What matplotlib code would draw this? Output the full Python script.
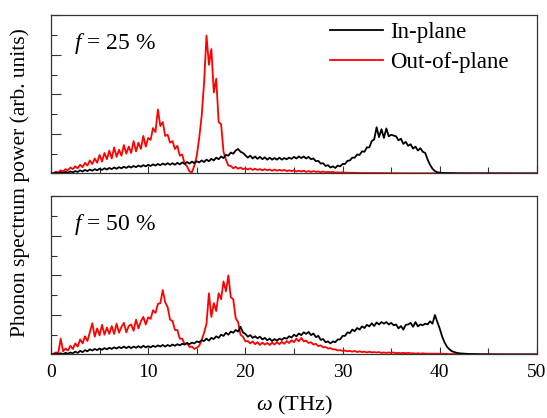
import numpy as np
import matplotlib
matplotlib.use("Agg")
import matplotlib.pyplot as plt
from matplotlib.ticker import MultipleLocator

plt.rcParams['font.family'] = ['Liberation Serif', 'DejaVu Serif']
plt.rcParams['mathtext.fontset'] = 'custom'
plt.rcParams['mathtext.it'] = 'Liberation Serif:italic'
plt.rcParams['mathtext.rm'] = 'Liberation Serif'

# frequency grid (THz), 0.25 THz steps
freq = np.linspace(0, 50, 201)

# f = 25 %, out-of-plane (red)
r25 = [0.0,
       0.01, 0.04, 0.03, 0.08, 0.05, 0.11, 0.08, 0.15,
       0.11, 0.18, 0.13, 0.22, 0.16, 0.27, 0.20, 0.33,
       0.24, 0.38, 0.27, 0.47, 0.30, 0.52, 0.36, 0.58,
       0.38, 0.66, 0.42, 0.60, 0.45, 0.72, 0.50, 0.68,
       0.52, 0.82, 0.56, 0.78, 0.62, 0.95, 0.68, 0.90,
       0.85, 1.15, 1.05, 1.62, 1.20, 1.30, 0.95, 0.98,
       0.78, 0.82, 0.62, 0.70, 0.45, 0.48, 0.25, 0.18,
       0.05, 0.03, 0.20, 0.45, 0.90, 1.45, 2.30, 3.49,
       2.75, 3.15, 2.05, 2.40, 1.30, 1.25, 0.55, 0.35,
       0.20, 0.19, 0.13, 0.17, 0.12, 0.15, 0.11, 0.13,
       0.10, 0.13, 0.09, 0.12, 0.09, 0.11, 0.08, 0.11,
       0.08, 0.10, 0.07, 0.10, 0.07, 0.09, 0.07, 0.09,
       0.06, 0.08, 0.06, 0.08, 0.05, 0.07, 0.05, 0.07,
       0.04, 0.06, 0.04, 0.06, 0.04, 0.05, 0.03, 0.05,
       0.03, 0.04, 0.03, 0.04, 0.02, 0.03, 0.02, 0.03,
       0.02, 0.02, 0.015, 0.02, 0.015, 0.015, 0.012, 0.012,
       0.01, 0.01, 0.01, 0.01, 0.01, 0.01, 0.01, 0.01,
       0.01, 0.008, 0.008, 0.008, 0.007, 0.007, 0.006, 0.006,
       0.005, 0.005, 0.005, 0.005, 0.005, 0.005, 0.005, 0.005,
       0.004, 0.004, 0.004, 0.004, 0.004, 0.004, 0.004, 0.004,
       0.003, 0.003, 0.003, 0.003, 0.003, 0.003, 0.003, 0.003,
       0.002, 0.002, 0.002, 0.002, 0.002, 0.002, 0.002, 0.002,
       0.001, 0.001, 0.001, 0.001, 0.001, 0.001, 0.001, 0.001,
       0.0, 0.0, 0.0, 0.0, 0.0, 0.0, 0.0, 0.0,
       0.0, 0.0, 0.0, 0.0, 0.0, 0.0, 0.0, 0.0]

# f = 25 %, in-plane (black)
k25 = [0.0,
       0.00, 0.02, 0.00, 0.03, 0.01, 0.04, 0.02, 0.05,
       0.03, 0.06, 0.04, 0.08, 0.05, 0.09, 0.06, 0.10,
       0.07, 0.11, 0.08, 0.12, 0.09, 0.13, 0.10, 0.14,
       0.11, 0.15, 0.12, 0.16, 0.13, 0.17, 0.14, 0.18,
       0.15, 0.19, 0.16, 0.20, 0.17, 0.21, 0.18, 0.22,
       0.19, 0.23, 0.20, 0.24, 0.21, 0.25, 0.22, 0.26,
       0.22, 0.26, 0.22, 0.27, 0.23, 0.28, 0.24, 0.29,
       0.25, 0.30, 0.26, 0.31, 0.28, 0.33, 0.29, 0.35,
       0.31, 0.37, 0.33, 0.40, 0.36, 0.43, 0.39, 0.47,
       0.45, 0.53, 0.50, 0.58, 0.62, 0.55, 0.52, 0.46,
       0.40, 0.45, 0.38, 0.43, 0.37, 0.42, 0.36, 0.41,
       0.35, 0.40, 0.35, 0.39, 0.35, 0.40, 0.35, 0.39,
       0.36, 0.40, 0.37, 0.42, 0.38, 0.43, 0.39, 0.43,
       0.38, 0.42, 0.36, 0.38, 0.31, 0.32, 0.25, 0.26,
       0.19, 0.21, 0.15, 0.18, 0.14, 0.20, 0.18, 0.24,
       0.24, 0.32, 0.33, 0.40, 0.40, 0.48, 0.47, 0.56,
       0.55, 0.66, 0.66, 0.82, 0.86, 1.17, 0.92, 1.12,
       0.90, 1.14, 0.94, 0.98, 0.96, 0.94, 0.84, 0.88,
       0.75, 0.80, 0.70, 0.74, 0.63, 0.68, 0.58, 0.64,
       0.55, 0.52, 0.35, 0.22, 0.12, 0.06, 0.03, 0.02,
       0.015, 0.012, 0.01, 0.008, 0.006, 0.005, 0.004, 0.003,
       0.003, 0.002, 0.002, 0.002, 0.001, 0.001, 0.001, 0.001,
       0.0, 0.0, 0.0, 0.0, 0.0, 0.0, 0.0, 0.0,
       0.0, 0.0, 0.0, 0.0, 0.0, 0.0, 0.0, 0.0,
       0.0, 0.0, 0.0, 0.0, 0.0, 0.0, 0.0, 0.0]

# f = 50 %, out-of-plane (red)
r50 = [0.0,
       0.02, 0.05, 0.04, 0.40, 0.08, 0.15, 0.10, 0.22,
       0.14, 0.28, 0.20, 0.38, 0.28, 0.46, 0.34, 0.56,
       0.79, 0.45, 0.66, 0.48, 0.75, 0.50, 0.68, 0.52,
       0.72, 0.52, 0.78, 0.55, 0.70, 0.80, 0.56, 0.72,
       0.76, 0.60, 0.88, 0.66, 0.84, 0.95, 0.76, 0.94,
       0.90, 1.12, 1.05, 1.28, 1.30, 1.63, 1.32, 1.20,
       0.88, 0.85, 0.62, 0.62, 0.40, 0.40, 0.26, 0.29,
       0.19, 0.20, 0.14, 0.17, 0.22, 0.36, 0.55, 0.78,
       1.55, 0.95, 1.30, 1.10, 1.55, 1.40, 1.85, 1.60,
       2.00, 1.45, 1.40, 0.92, 0.82, 0.50, 0.45, 0.33,
       0.34, 0.28, 0.33, 0.26, 0.31, 0.24, 0.30, 0.25,
       0.29, 0.24, 0.30, 0.25, 0.31, 0.26, 0.32, 0.27,
       0.34, 0.29, 0.36, 0.31, 0.40, 0.33, 0.42, 0.33,
       0.35, 0.29, 0.31, 0.25, 0.27, 0.21, 0.23, 0.18,
       0.19, 0.15, 0.16, 0.13, 0.13, 0.10, 0.11, 0.09,
       0.10, 0.08, 0.09, 0.07, 0.09, 0.06, 0.08, 0.06,
       0.07, 0.05, 0.07, 0.05, 0.06, 0.05, 0.06, 0.04,
       0.05, 0.04, 0.05, 0.04, 0.05, 0.03, 0.04, 0.03,
       0.04, 0.03, 0.04, 0.03, 0.03, 0.02, 0.03, 0.02,
       0.03, 0.02, 0.02, 0.02, 0.02, 0.02, 0.02, 0.02,
       0.02, 0.015, 0.015, 0.01, 0.01, 0.01, 0.01, 0.01,
       0.005, 0.005, 0.005, 0.005, 0.005, 0.005, 0.005, 0.005,
       0.002, 0.002, 0.002, 0.002, 0.002, 0.002, 0.002, 0.002,
       0.0, 0.0, 0.0, 0.0, 0.0, 0.0, 0.0, 0.0,
       0.0, 0.0, 0.0, 0.0, 0.0, 0.0, 0.0, 0.0]

# f = 50 %, in-plane (black)
k50 = [0.0,
       0.00, 0.02, 0.01, 0.03, 0.01, 0.04, 0.02, 0.05,
       0.03, 0.07, 0.04, 0.09, 0.06, 0.11, 0.08, 0.13,
       0.10, 0.14, 0.11, 0.15, 0.12, 0.16, 0.13, 0.17,
       0.14, 0.18, 0.15, 0.19, 0.16, 0.20, 0.16, 0.20,
       0.16, 0.20, 0.17, 0.21, 0.17, 0.22, 0.18, 0.21,
       0.18, 0.22, 0.19, 0.23, 0.20, 0.24, 0.20, 0.24,
       0.21, 0.25, 0.22, 0.26, 0.23, 0.27, 0.25, 0.29,
       0.26, 0.30, 0.28, 0.33, 0.31, 0.36, 0.34, 0.40,
       0.35, 0.42, 0.39, 0.46, 0.42, 0.50, 0.47, 0.55,
       0.50, 0.58, 0.55, 0.62, 0.58, 0.70, 0.56, 0.52,
       0.45, 0.49, 0.42, 0.46, 0.41, 0.45, 0.38, 0.42,
       0.36, 0.40, 0.34, 0.39, 0.35, 0.40, 0.37, 0.42,
       0.40, 0.46, 0.43, 0.50, 0.46, 0.53, 0.49, 0.56,
       0.52, 0.57, 0.49, 0.53, 0.44, 0.47, 0.37, 0.39,
       0.31, 0.33, 0.28, 0.33, 0.31, 0.38, 0.38, 0.47,
       0.47, 0.56, 0.54, 0.63, 0.59, 0.67, 0.63, 0.71,
       0.67, 0.75, 0.71, 0.79, 0.72, 0.81, 0.76, 0.82,
       0.78, 0.82, 0.76, 0.80, 0.74, 0.76, 0.66, 0.72,
       0.63, 0.75, 0.76, 0.80, 0.70, 0.82, 0.71, 0.76,
       0.74, 0.78, 0.76, 0.84, 0.78, 1.00, 0.82, 0.65,
       0.45, 0.30, 0.19, 0.13, 0.08, 0.06, 0.04, 0.03,
       0.025, 0.02, 0.015, 0.012, 0.01, 0.008, 0.006, 0.005,
       0.004, 0.003, 0.003, 0.002, 0.002, 0.001, 0.001, 0.001,
       0.0, 0.0, 0.0, 0.0, 0.0, 0.0, 0.0, 0.0,
       0.0, 0.0, 0.0, 0.0, 0.0, 0.0, 0.0, 0.0]

panels = [("$f$ = 25 %", k25, r25), ("$f$ = 50 %", k50, r50)]

fig = plt.figure(figsize=(5.47, 4.18), dpi=100)
ax_top = fig.add_axes([0.0932, 0.585, 0.8885, 0.378])
ax_bot = fig.add_axes([0.0932, 0.152, 0.8885, 0.378])

for ax, (label, k, r) in zip([ax_top, ax_bot], panels):
    ax.plot(freq, k, color='black', lw=1.3, label='In-plane', zorder=3)
    ax.plot(freq, r, color='red', lw=1.3, label='Out-of-plane', zorder=2)
    ax.set_xlim(0, 50)
    ax.set_ylim(0, 4)
    ax.xaxis.set_major_locator(MultipleLocator(10))
    ax.xaxis.set_minor_locator(MultipleLocator(5))
    ax.yaxis.set_major_locator(MultipleLocator(1))
    ax.yaxis.set_minor_locator(MultipleLocator(0.5))
    ax.tick_params(which='both', direction='in', top=False, right=False,
                   labelleft=False, labelsize=14, pad=7, width=0.8, color='#333333')
    ax.tick_params(axis='y', which='major', length=7)
    ax.tick_params(axis='y', which='minor', length=4)
    ax.tick_params(axis='x', which='major', length=5)
    ax.tick_params(axis='x', which='minor', length=4)
    for sp in ax.spines.values():
        sp.set_linewidth(0.9)
        sp.set_color('#333333')
    ax.text(0.048, 0.79, label, transform=ax.transAxes, fontsize=17, va='baseline')

ax_top.tick_params(labelbottom=False)
ax_top.legend(loc='upper left', bbox_to_anchor=(0.565, 0.985), frameon=False,
              fontsize=16.5, handlelength=2.3, handletextpad=0.3,
              labelspacing=0.35, borderaxespad=0, borderpad=0.2)

ax_bot.set_xlabel("$\\omega$ (THz)", fontsize=16, labelpad=9)
fig.text(20 / 547, 1 - 183 / 418, "Phonon spectrum power (arb. units)",
         rotation=90, ha='center', va='center', fontsize=15.5)

fig.savefig("out.png", dpi=100)
